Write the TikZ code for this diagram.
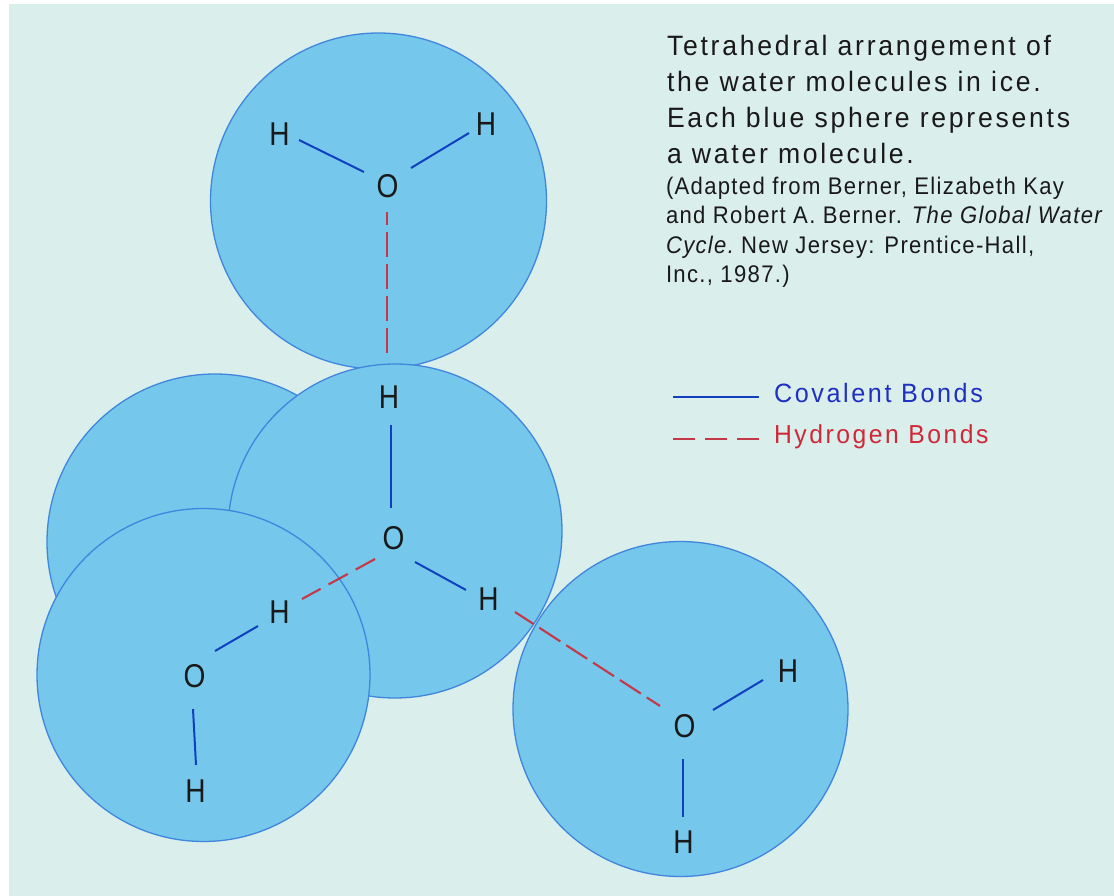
\documentclass[tikz,border=0pt]{standalone}
\usepackage{fontspec}
\setmainfont{Liberation Sans}
\newfontfamily\atomfont[FakeStretch=0.85]{Liberation Sans}
\newfontfamily\bigfont[LetterSpace=9.8,FakeStretch=0.95]{Liberation Sans}
\newfontfamily\smallfont[LetterSpace=5.5,FakeStretch=0.92]{Liberation Sans}
\definecolor{bgc}{HTML}{DAEEEC}
\definecolor{sphf}{HTML}{76C7EC}
\definecolor{sphl}{HTML}{3F86DC}
\definecolor{cov}{HTML}{1040C0}
\definecolor{hyd}{HTML}{C43848}
\definecolor{covt}{HTML}{2030C0}
\definecolor{hydt}{HTML}{D02838}
\tikzset{
 sphere3/.style={circle,draw=sphl,fill=sphf,line width=1.3pt,inner sep=0pt,outer sep=0pt,minimum size=#1},
 atom/.style={circle,inner sep=0pt,outer sep=0pt,minimum size=40pt,text=black!90,font=\atomfont\fontsize{33}{33}\selectfont},
 covb/.style={draw=cov,line width=2pt},
 hydb/.style={draw=hyd,line width=2.1pt,dash pattern=on 25pt off 7pt},
 para/.style={anchor=north west,inner sep=0pt,outer sep=0pt,align=left,text=black!90},
}
\begin{document}
\begin{tikzpicture}[x=1pt,y=-1pt]
\useasboundingbox (0,0) rectangle (1114,896);
\fill[white] (0,0) rectangle (1114,896);
\fill[bgc] (9,4) rectangle (1114,896);
% spheres
\node[sphere3=336pt] (sb) at (215,542) {};
\node[sphere3=336pt] (st) at (378.5,201) {};
\node[sphere3=334pt] (sc) at (395,531) {};
\node[sphere3=333pt] (sl) at (203.5,675) {};
\node[sphere3=335pt] (sr) at (680.5,709) {};
% atoms
\node[atom] (o1) at (387.5,186) {O};
\node[atom] (h1) at (279.5,134) {H};
\node[atom] (h2) at (486,124.5) {H};
\node[atom] (h3) at (389,397) {H};
\node[atom] (o2) at (393.5,538) {O};
\node[atom] (h4) at (488.5,599) {H};
\node[atom] (h5) at (279.5,612.5) {H};
\node[atom] (o3) at (194.5,676) {O};
\node[atom] (h6) at (195.5,791.5) {H};
\node[atom] (o4) at (684.5,726) {O};
\node[atom] (h7) at (788,671.5) {H};
\node[atom] (h8) at (683.5,842) {H};
% covalent bonds
\draw[covb] ([shift={(-23.5,-14)}]o1.center) -- ([shift={(19.5,6)}]h1.center);
\draw[covb] ([shift={(23.5,-18)}]o1.center) -- ([shift={(-17,8.5)}]h2.center);
\draw[covb] ([shift={(-3,-30)}]o2.center) -- ([shift={(1.5,28)}]h3.center);
\draw[covb] ([shift={(21.5,24)}]o2.center) -- ([shift={(-22.5,-9)}]h4.center);
\draw[covb] ([shift={(20.5,-25)}]o3.center) -- ([shift={(-21.5,13.5)}]h5.center);
\draw[covb] ([shift={(-1.5,33)}]o3.center) -- ([shift={(0.5,-26.5)}]h6.center);
\draw[covb] ([shift={(28.5,-16)}]o4.center) -- ([shift={(-25,8.5)}]h7.center);
\draw[covb] ([shift={(-1.5,33)}]o4.center) -- ([shift={(-0.5,-25)}]h8.center);
% hydrogen bonds
\draw[hydb,dash phase=12pt] ([shift={(-0.5,26)}]o1.center) -- ([shift={(-2,-44)}]h3.center);
\draw[hydb,dash pattern=on 22pt off 9pt] ([shift={(-18.5,21)}]o2.center) -- ([shift={(22.5,-13.5)}]h5.center);
\draw[hydb,dash phase=3pt] ([shift={(26.5,13)}]h4.center) -- ([shift={(-24.5,-20)}]o4.center);
% text
\node[para,font=\bigfont\fontsize{28}{36}\selectfont] (title) at (667,35) {Tetrahedral arrangement of\\the water molecules in ice.\\Each blue sphere represents\\a water molecule.};
\node[para,font=\smallfont\fontsize{24}{29.5}\selectfont] (cite) at (666,177) {(Adapted from Berner, Elizabeth Kay\\and Robert A. Berner. \textit{The Global Water}\\\textit{Cycle.}\hspace{-4pt} New Jersey: Prentice-Hall,\\Inc., 1987.)};
% legend
\coordinate (la) at (673,397); \coordinate (lb) at (759,397);
\coordinate (lc) at (673,439); \coordinate (ld) at (759,439);
\draw[covb] (la) -- (lb);
\draw[hydb,dash pattern=on 22pt off 10pt] (lc) -- (ld);
\node[para,text=covt,font=\bigfont\fontsize{26.5}{26.5}\selectfont] (lcov) at (774,383) {Covalent Bonds};
\node[para,text=hydt,font=\bigfont\fontsize{26}{26}\selectfont] (lhyd) at (774,425) {Hydrogen Bonds};
\end{tikzpicture}
\end{document}
